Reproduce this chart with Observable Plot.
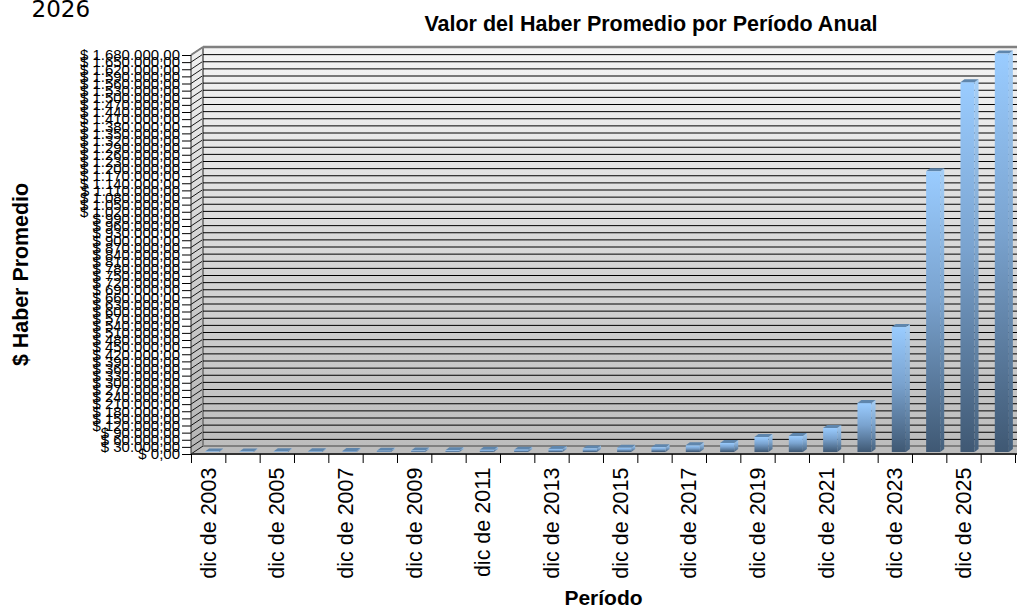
<!DOCTYPE html>
<html>
<head>
<meta charset="utf-8">
<script src="https://cdn.jsdelivr.net/npm/d3@7"></script>
<script src="https://cdn.jsdelivr.net/npm/@observablehq/plot@0.6"></script>
<style>
html,body{margin:0;padding:0;background:#fff;overflow:hidden}
svg{display:block}
</style>
</head>
<body>
<div id="chart"></div>
<script>
const periods = ["dic de 2003","dic de 2004","dic de 2005","dic de 2006","dic de 2007","dic de 2008","dic de 2009","dic de 2010","dic de 2011","dic de 2012","dic de 2013","dic de 2014","dic de 2015","dic de 2016","dic de 2017","dic de 2018","dic de 2019","dic de 2020","dic de 2021","dic de 2022","dic de 2023","dic de 2024","dic de 2025","dic de 2026"];
const haberes = [2000,2500,3000,3500,4000,5000,6000,7000,9000,10000,13000,15000,18000,20000,28000,38000,63000,67000,101000,206000,526000,1182000,1557000,1678000];
const labeledPeriods = ["dic de 2003","dic de 2005","dic de 2007","dic de 2009","dic de 2011","dic de 2013","dic de 2015","dic de 2017","dic de 2019","dic de 2021","dic de 2023","dic de 2025"];
const yTicks = [0,30000,60000,90000,120000,150000,180000,210000,240000,270000,300000,330000,360000,390000,420000,450000,480000,510000,540000,570000,600000,630000,660000,690000,720000,750000,780000,810000,840000,870000,900000,930000,960000,990000,1020000,1050000,1080000,1110000,1140000,1170000,1200000,1230000,1260000,1290000,1320000,1350000,1380000,1410000,1440000,1470000,1500000,1530000,1560000,1590000,1620000,1650000,1680000];

const rows = periods.map((p,i)=>({periodo:p, haber:haberes[i]}));
const money = v => "$ " + d3.format(",.2f")(v).replace(/[.,]/g, c => c === "," ? "." : ",");
const NS = "http://www.w3.org/2000/svg";
const mk = (name, attrs) => { const e = document.createElementNS(NS, name); for (const k in attrs) e.setAttribute(k, attrs[k]); return e; };

const depthX = 12, depthY = 8;
const grad = (id, stops, horizontal) => {
  const g = mk("linearGradient", {id, x1:0, y1:0, x2:horizontal?1:0, y2:horizontal?0:1});
  stops.forEach(([o,c]) => g.appendChild(mk("stop", {offset:o, "stop-color":c})));
  return g;
};
const defsMark = () => {
  const d = mk("defs", {});
  d.appendChild(grad("wall", [[0,"#f4f4f4"],[1,"#bdbdbd"]]));
  d.appendChild(grad("side", [[0,"#f0f0f0"],[1,"#b4b4b4"]]));
  d.appendChild(grad("front", [[0,"#9accff"],[0.45,"#7aa3cf"],[1,"#3f5873"]]));
  d.appendChild(grad("flank", [[0,"#a6cff7"],[0.45,"#7ea6cf"],[1,"#45607c"]]));
  return d;
};
// side wall and floor of the 3D box, from the frame dimensions
const boxMark = (i, s, v, dim) => {
  const l = dim.marginLeft, r = dim.width - dim.marginRight, t = dim.marginTop, b = dim.height - dim.marginBottom;
  const g = mk("g", {});
  g.appendChild(mk("path", {d:`M${l},${t}L${l+depthX},${t-depthY}V${b-depthY}L${l},${b}Z`, fill:"url(#side)"}));
  g.appendChild(mk("path", {d:`M${l},${b}L${l+depthX},${b-depthY}H${r+depthX}L${r},${b}Z`, fill:"#bcbcbc"}));
  yTicks.forEach(t0 => {
    const y = s.y(t0);
    g.appendChild(mk("path", {d:`M${l},${y}L${l+depthX},${y-depthY}`, stroke:"#000", "stroke-width":0.9, fill:"none"}));
  });
  g.appendChild(mk("path", {d:`M${l+depthX},${t-depthY}L${l},${t}`, stroke:"#808080", "stroke-width":2, fill:"none"}));
  g.appendChild(mk("path", {d:`M${l+depthX},${t-depthY}V${b-depthY}`, stroke:"#808080", "stroke-width":2, fill:"none"}));
  g.appendChild(mk("path", {d:`M${l+depthX},${t-depthY}H${dim.width}`, stroke:"#808080", "stroke-width":2.5, fill:"none"}));
  g.appendChild(mk("path", {d:`M${l+depthX},${b-depthY}H${dim.width}`, stroke:"#808080", "stroke-width":2, fill:"none"}));
  g.appendChild(mk("path", {d:`M${l},${b}H${dim.width}`, stroke:"#333", "stroke-width":2, fill:"none"}));
  g.appendChild(mk("path", {d:`M${l},${t}V${b}`, stroke:"#222", "stroke-width":1, fill:"none"}));
  return g;
};
// adds the top and side faces to every front rectangle of the bar mark
const bar3d = (index, scales, values, dim, ctx, next) => {
  const g = next(index, scales, values, dim, ctx);
  const bx = 4, by = 3;
  g.querySelectorAll("rect").forEach(rc => {
    const x = +rc.getAttribute("x"), y = +rc.getAttribute("y"), w = +rc.getAttribute("width"), h = +rc.getAttribute("height");
    rc.parentNode.insertBefore(mk("path", {d:`M${x+w},${y}l${bx},${-by}v${h}l${-bx},${by}Z`, fill:"url(#flank)"}), rc);
    rc.parentNode.insertBefore(mk("path", {d:`M${x},${y}l${bx},${-by}h${w}l${-bx},${by}Z`, fill:"#5f86ad"}), rc);
  });
  return g;
};
const label = (t, dx, dy, o={}) => Plot.text([t], {text:d=>d, frameAnchor:"top-left", lineAnchor:"middle", dx, dy, fontFamily:"Liberation Sans", fontWeight:"bold", fontSize:21, fill:"#000", ...o});

const chart = Plot.plot({
  width:1017, height:607,
  marginLeft:191, marginRight:2, marginTop:55, marginBottom:153,
  style:{background:"#fff", overflow:"visible"},
  x:{type:"band", domain:periods, paddingInner:0.59, paddingOuter:0.295, align:0.5, round:false},
  y:{domain:[0,1680000]},
  marks:[
    defsMark,
    Plot.frame({fill:"url(#wall)", stroke:null, dx:depthX, dy:-depthY}),
    boxMark,
    Plot.ruleY(yTicks.slice(1,-1), {y:d=>d, stroke:"#000", strokeWidth:1, dx:depthX, dy:-depthY, insetRight:-depthX}),
    Plot.barY(rows, {x:"periodo", y:"haber", fill:"url(#front)", dx:4, dy:-2, render:bar3d}),
    Plot.axisY({ticks:yTicks, text:null, tickSize:9, label:null}),
    Plot.text(yTicks, {y:d=>d, text:money, frameAnchor:"left", textAnchor:"end", lineAnchor:"middle", dx:-11.5, fontFamily:"Liberation Sans", fontSize:15, fill:"#000"}),
    Plot.axisX({ticks:periods, text:null, label:null, tickSize:9, dx:-17.17}),
    Plot.axisX({ticks:periods.slice(-1), text:null, label:null, tickSize:9, dx:17.17}),
    Plot.text(labeledPeriods, {x:d=>d, text:d=>d, frameAnchor:"bottom", rotate:-90, textAnchor:"end", lineAnchor:"middle", dy:13, fontFamily:"Liberation Sans", fontSize:21.5, fill:"#000"}),
    label("2026", -160, -46, {fontFamily:"DejaVu Sans", fontWeight:"normal", fontSize:23}),
    label("Valor del Haber Promedio por Período Anual", 459.5, -31.7, {textAnchor:"middle", fontSize:21.5}),
    label("Período", 412, 543, {textAnchor:"middle"}),
    label("$ Haber Promedio", -170, 219, {textAnchor:"middle", rotate:-90, fontSize:21.4})
  ]
});
document.getElementById("chart").appendChild(chart);
</script>
</body>
</html>
